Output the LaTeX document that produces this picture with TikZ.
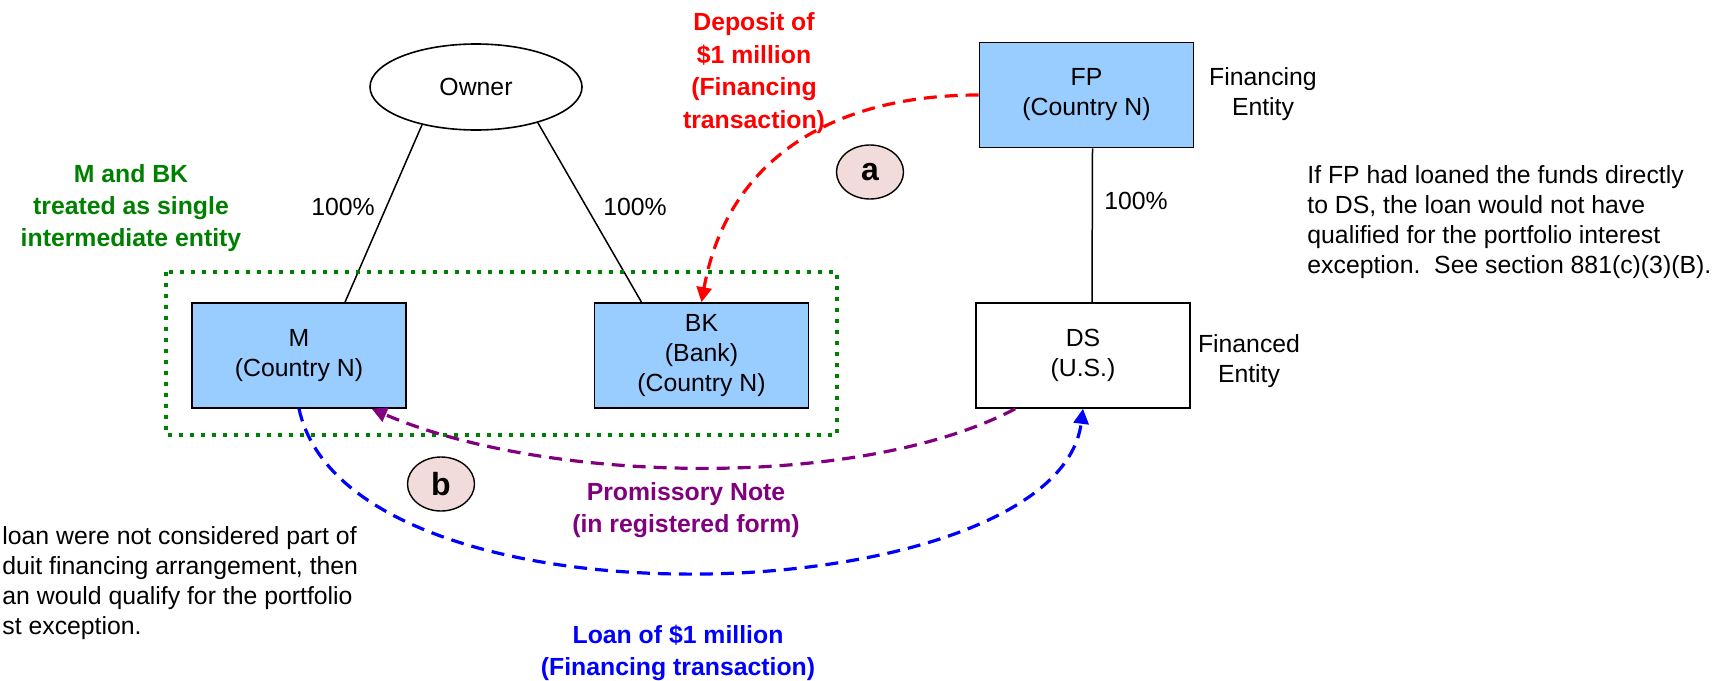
\documentclass[tikz,border=0pt]{standalone}
\usepackage{fontspec}
\setmainfont{Liberation Sans}
\usetikzlibrary{shapes.geometric,arrows.meta}
\definecolor{boxblue}{HTML}{99CCFF}
\definecolor{tagpink}{HTML}{F2DCDB}
\definecolor{grpgreen}{HTML}{008000}
\definecolor{notepurple}{HTML}{800080}
\tikzset{
  entity/.style={draw, line width=0.8pt, fill=boxblue, minimum width=107pt, minimum height=52.5pt, inner sep=0pt, align=center},
  flow/.style={line width=1.6pt, dash pattern=on 6.5pt off 4pt, -{Triangle[length=7.5pt,width=7.5pt]}},
  tag/.style={ellipse, draw, line width=0.7pt, fill=tagpink, minimum width=33.5pt, minimum height=27pt, inner sep=0pt, font=\fontsize{16}{18}\selectfont\bfseries},
  note/.style={align=center, font=\fontsize{12.4}{16.2}\selectfont\bfseries}
}
\begin{document}
\begin{tikzpicture}[x=0.5pt,y=-0.5pt, every node/.style={font=\fontsize{12.4}{15}\selectfont}]
    \useasboundingbox (0,0) rectangle (1713,680);
    % owner and the two country N companies
    \node[ellipse, draw, line width=0.8pt, minimum width=106pt, minimum height=43pt] (owner) at (476,87) {Owner};
    \node[entity] (M) at (299,355.5) {M\\(Country N)};
    \node[entity] (BK) at (701.5,355.5) {BK\\(Bank)\\(Country N)};
    \node[entity] (FP) at (1086.5,95) {FP\\(Country N)};
    \node[entity, fill=white] (DS) at (1083,355.5) {DS\\(U.S.)};
    \draw[line width=0.75pt] (owner.215) -- ([shift={(46,0)}]M.north);
    \draw[line width=0.75pt] (owner.330) -- ([shift={(-60,0)}]BK.north);
    \draw[line width=0.75pt] ([shift={(6,0)}]FP.south) -- ([shift={(9,0)}]DS.north);
    \node (pM) at (343,207) {100\%};
    \node (pBK) at (635,207) {100\%};
    \node (pDS) at (1136,201) {100\%};
    \node[align=center] (fin) at (1263,94) {Financing\\Entity};
    \node[align=center] (fnd) at (1249,361) {Financed\\Entity};
    % single intermediate entity
    \draw[grpgreen, line width=2.2pt, dash pattern=on 2.2pt off 3.3pt] (166,272) rectangle (837,435);
    \node[note, text=grpgreen] (single) at (131,208) {M and BK\\treated as single\\intermediate entity};
    % financing flows
    \draw[flow, red] (FP.west) .. controls +(-150,0) and +(25,-140) .. (BK.north);
    \draw[flow, notepurple] ([shift={(40,0)}]DS.south west) .. controls +(-156,82) and +(174,75) .. ([shift={(-35,0)}]M.south east);
    \draw[flow, blue] (M.south) .. controls +(51,232) and +(-26,204) .. (DS.south);
    \node[tag] (a) at (870,172) {a};
    \node[tag] (b) at (441,484) {b};
    \node[note, text=red] (deposit) at (754,73) {Deposit of\\\$1 million\\(Financing\\transaction)};
    \node[note, text=notepurple] (prom) at (686,510) {Promissory Note\\(in registered form)};
    \node[note, text=blue] (loan) at (678,653) {Loan of \$1 million\\(Financing transaction)};
    % side remarks
    \node[align=left, anchor=west, inner sep=0pt] (direct) at (1307,222) {If FP had loaned the funds directly\\to DS, the loan would not have\\qualified for the portfolio interest\\exception.\ \ See section 881(c)(3)(B).};
    \node[align=left, anchor=west, inner sep=0pt] (conduit) at (2,583) {loan were not considered part of\\duit financing arrangement, then\\an would qualify for the portfolio\\st exception.};
\end{tikzpicture}
\end{document}
